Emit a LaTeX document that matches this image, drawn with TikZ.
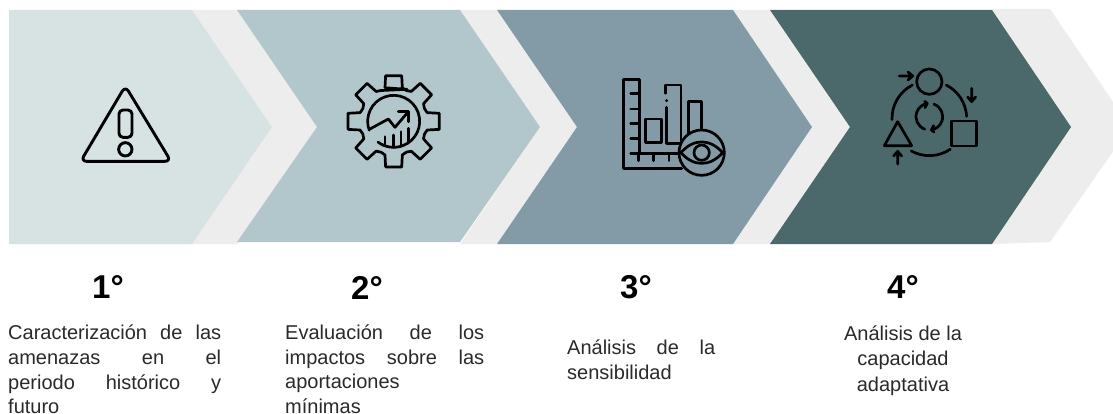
\documentclass[tikz,border=0pt]{standalone}
\usepackage{fontspec}
\setmainfont{Liberation Sans}
\usetikzlibrary{arrows.meta}
\definecolor{cA}{HTML}{D7E3E3}
\definecolor{cB}{HTML}{B2C7CB}
\definecolor{cC}{HTML}{829BA6}
\definecolor{cD}{HTML}{4B686B}
\definecolor{cG}{HTML}{EDEDED}
\definecolor{txt}{HTML}{2A2A2A}
\newcommand{\jl}[2]{\makebox[#1pt][s]{\strut #2}}
\tikzset{
  head/.style={font=\bfseries\fontsize{33}{33}\selectfont,text=black,inner sep=0pt},
  body/.style={font=\fontsize{20}{24.6}\selectfont,text=txt,inner sep=0pt,anchor=north west,align=left},
  bodyc/.style={font=\fontsize{20}{25.5}\selectfont,text=txt,inner sep=0pt,align=center},
  icon/.style={draw=black,line width=#1,line cap=round,line join=round},
  icon/.default=2.7pt
}
\begin{document}
\begin{tikzpicture}[x=1pt,y=-1pt]
\useasboundingbox (0,0) rectangle (1113,414);
\clip (0,0) rectangle (1113,414);
\fill[white] (0,0) rectangle (1113,414);
% grey chevrons
\fill[cG] (992,9) -- (1050,9) -- (1130,127) -- (1050,242) -- (992,244) -- cycle;
\fill[cG] (733,10) -- (770,10) -- (850,127) -- (770,244) -- (733,244) -- (812,127) -- cycle;
\fill[cG] (460,10) -- (497,10) -- (577,127) -- (497,244) -- (460,244) -- (540,127) -- cycle;
\fill[cG] (192,10) -- (237,10) -- (317,127) -- (237,244) -- (192,244) -- (272,127) -- cycle;
% coloured chevrons
\fill[cA] (9,10) -- (192,10) -- (272,127) -- (192,244) -- (9,244) -- cycle;
\fill[cB] (237,10) -- (460,10) -- (540,127) -- (460,242) -- (237,242) -- (317,127) -- cycle;
\fill[cC] (497,10) -- (733,10) -- (812,127) -- (733,244) -- (497,244) -- (577,127) -- cycle;
\fill[cD] (770,10) -- (992,10) -- (1071,127) -- (992,244) -- (770,244) -- (850,127) -- cycle;

% warning icon
\begin{scope}[x=0.3333pt,y=-0.3333pt,shift={(70pt,-60pt)}]
\draw[icon=2.9pt,rounded corners=6pt] (166,78) -- (303,304) -- (32,304) -- cycle;
\draw[icon=2.9pt,rounded corners=4pt] (147,150) rectangle (186,232);
\draw[icon=2.9pt] (166,268) circle (20);
\end{scope}

% gear icon
\begin{scope}[x=0.3333pt,y=-0.3333pt,shift={(320pt,-60pt)}]
\begin{scope}[shift={(221,184)},yscale=-1]
\draw[icon] (67.5:104)
 \foreach \a in {0,45,...,315}{
   -- ({90-\a+22.5-8}:104) -- ({90-\a+10}:139) -- ({90-\a-10}:139) -- ({90-\a-22.5+8}:104)
   -- ({90-\a-22.5}:100)
 } -- cycle;
\draw[icon] (200:78) arc[start angle=200,end angle=-127,radius=78];
\end{scope}
\draw[icon] (148,208) -- (205,177) -- (225,202) -- (265,155);
\draw[icon] (235,155) -- (265,155) -- (265,185);
\draw[icon] (195,257) -- (195,230);
\draw[icon] (220,262) -- (220,225);
\draw[icon] (243,259) -- (243,215);
\draw[icon] (265,248) -- (265,205);
\end{scope}

% chart with eye icon
\begin{scope}[x=0.3333pt,y=-0.3333pt,shift={(600pt,-60pt)}]
\draw[icon] (245,325) -- (70,325) -- (70,58) -- (118,58) -- (118,280) -- (240,280);
\foreach \y in {100,147,190,235,280} \draw[icon] (118,\y) -- (92,\y);
\foreach \x in {115,160,207} \draw[icon] (\x,280) -- (\x,302);
\draw[icon] (137,177) rectangle (185,248);
\draw[icon] (197,100) -- (197,75) -- (243,75) -- (243,250) -- (200,250) -- (200,142);
\fill (200,122) circle (5);
\draw[icon] (265,225) -- (265,125) -- (305,125) -- (305,210);
\fill[cC] (305,278) circle (68);
\draw[icon] (305,278) circle (68);
\draw[icon] (243,278) .. controls (280,235) and (330,235) .. (368,278) .. controls (330,321) and (280,321) .. cycle;
\draw[icon] (305,278) circle (23);
\end{scope}

% cycle icon
\begin{scope}[x=0.3333pt,y=-0.3333pt,shift={(870pt,-60pt)}]
\draw[icon] (178,65) circle (38);
\draw[icon] (245,183) rectangle (320,258);
\draw[icon] (43,257) -- (125,257) -- (83,185) -- cycle;
\begin{scope}[shift={(178,175)},yscale=-1]
\draw[icon] (182:112) arc[start angle=182,end angle=117,radius=112];
\draw[icon] (63:112) arc[start angle=63,end angle=3,radius=112];
\draw[icon] (241:112) arc[start angle=241,end angle=304,radius=112];
\end{scope}
\draw[icon] (88,48) -- (128,48) (114,36) -- (128,48) -- (114,60);
\draw[icon] (305,85) -- (305,125) (293,111) -- (305,125) -- (317,111);
\draw[icon] (83,312) -- (83,274) (71,288) -- (83,274) -- (95,288);
\begin{scope}[shift={(178,170)},yscale=-1]
\draw[icon] (250:40) arc[start angle=250,end angle=100,radius=40];
\draw[icon] (70:40) arc[start angle=70,end angle=-80,radius=40];
\end{scope}
\draw[icon] (164,124) -- (172,130) -- (165,143);
\draw[icon] (192,216) -- (184,210) -- (191,197);
\end{scope}

% headings
\node[head] (h1) at (108,287.5) {1°};
\node[head] (h2) at (367,287.5) {2°};
\node[head] (h3) at (636,287.5) {3°};
\node[head] (h4) at (903,287.5) {4°};

% descriptions
\node[body] (t1) at (8,322.5) {\jl{213}{Caracterización de las}\\\jl{213}{amenazas en el}\\\jl{213}{periodo histórico y}\\\strut futuro};
\node[body] (t2) at (285,322) {\jl{199}{Evaluación de los}\\\jl{199}{impactos sobre las}\\\strut aportaciones\\\strut mínimas};
\node[body] (t3) at (567,337) {\jl{148}{Análisis de la}\\\strut sensibilidad};
\node[bodyc] (t4) at (903,360.5) {Análisis de la\\capacidad\\adaptativa};
\end{tikzpicture}
\end{document}
